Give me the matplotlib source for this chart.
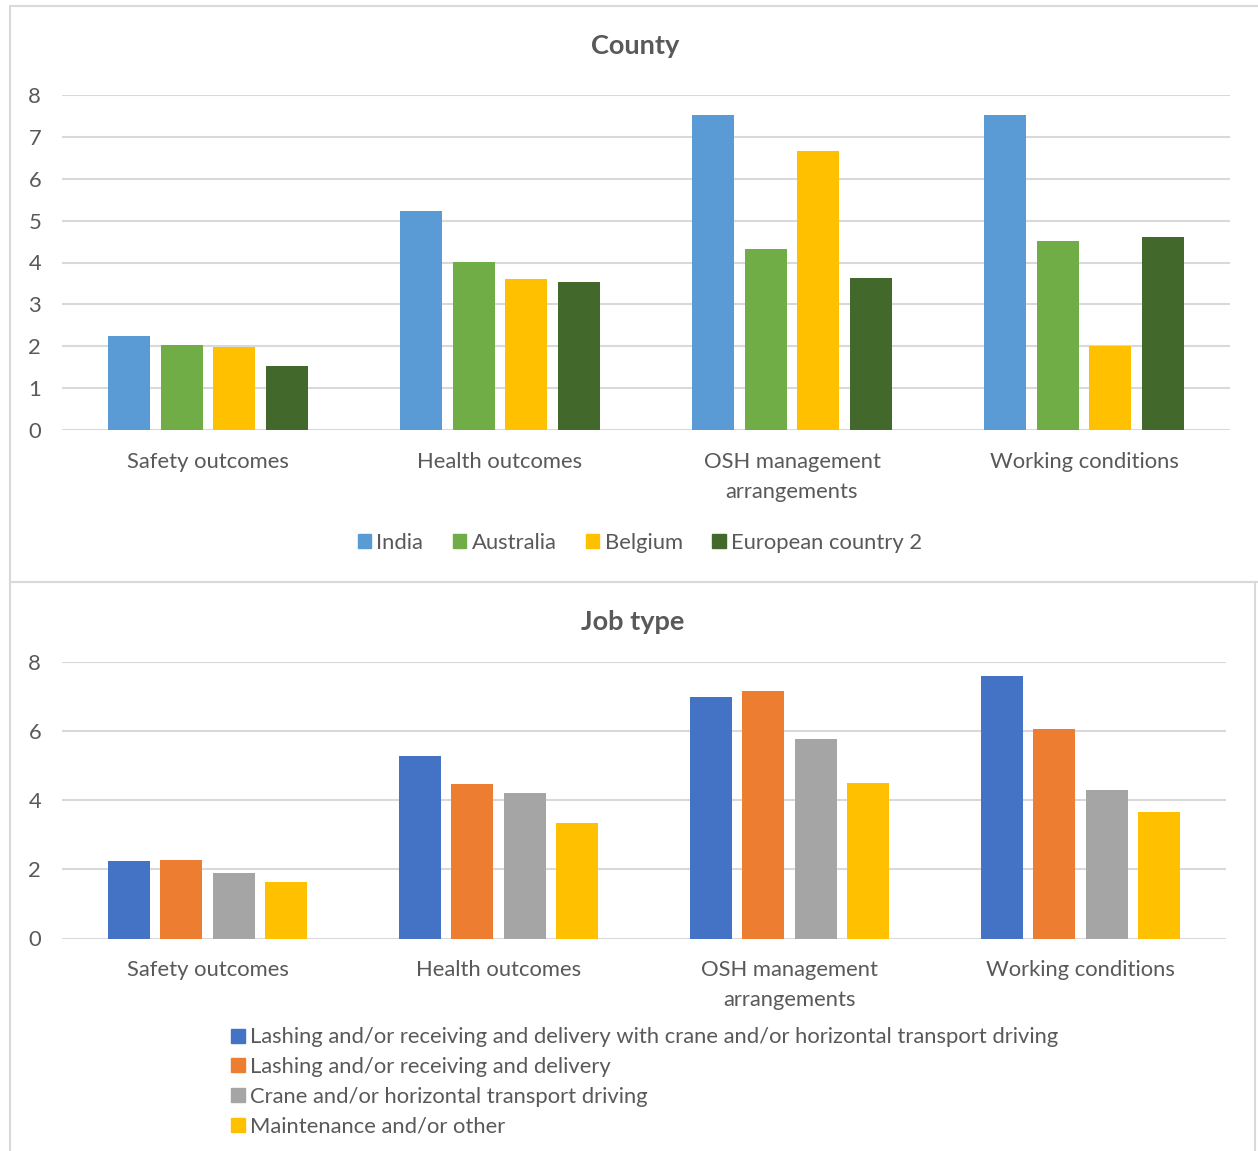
import matplotlib
matplotlib.use("Agg")
import matplotlib.pyplot as plt
import numpy as np
from matplotlib.patches import Rectangle

# ── Data ──────────────────────────────────────────────────────────────────────

CATEGORIES = ["Safety outcomes", "Health outcomes", "OSH management\narrangements", "Working conditions"]

COUNTRY_NAMES = ["India", "Australia", "Belgium", "European country 2"]
INDIA = [2.24, 5.22, 7.52, 7.52]
AUSTRALIA = [2.03, 4.01, 4.33, 4.52]
BELGIUM = [1.98, 3.61, 6.66, 2.01]
EUROPEAN_2 = [1.53, 3.53, 3.62, 4.62]

JOB_NAMES = [
    "Lashing and/or receiving and delivery with crane and/or horizontal transport driving",
    "Lashing and/or receiving and delivery",
    "Crane and/or horizontal transport driving",
    "Maintenance and/or other",
]
JOB_LASHING_CRANE = [2.25, 5.29, 6.99, 7.60]
JOB_LASHING = [2.28, 4.48, 7.16, 6.06]
JOB_CRANE = [1.89, 4.20, 5.77, 4.30]
JOB_MAINT = [1.64, 3.35, 4.51, 3.67]

COUNTRY_COLORS = ["#5B9BD5", "#70AD47", "#FFC000", "#43682B"]
JOB_COLORS = ["#4472C4", "#ED7D31", "#A5A5A5", "#FFC000"]

TEXT = "#595959"
GRID = "#D9D9D9"
FS = 15.8

plt.rcParams["font.family"] = ["Lato", "DejaVu Sans"]

W, H = 1258, 1151
fig = plt.figure(figsize=(W / 100, H / 100), dpi=100)


def px_axes(x0, y_top, x1, y_bot):
    return fig.add_axes([x0 / W, 1 - y_bot / H, (x1 - x0) / W, (y_bot - y_top) / H])


def panel_box(x0, y0, x1, y1):
    fig.patches.append(Rectangle((x0 / W, 1 - y1 / H), (x1 - x0) / W, (y1 - y0) / H,
                                 transform=fig.transFigure, fill=False,
                                 edgecolor=GRID, lw=1.5))


def grouped_bars(ax, series, colors, yticks):
    x = np.arange(len(CATEGORIES))
    step, width = 0.18, 0.144
    for i, (vals, c) in enumerate(zip(series, colors)):
        ax.bar(x + (i - 1.5) * step, vals, width=width, color=c, zorder=3)
    ax.set_xlim(-0.5, len(CATEGORIES) - 0.5)
    ax.set_ylim(0, 8)
    ax.set_yticks(yticks)
    ax.grid(axis="y", color=GRID, lw=1.5, zorder=0)
    for s in ax.spines.values():
        s.set_visible(False)
    ax.set_xticks(x)
    ax.set_xticklabels(CATEGORIES, fontsize=FS, color=TEXT, linespacing=1.65)
    ax.tick_params(axis="x", length=0, pad=15.5)
    ax.tick_params(axis="y", length=0, pad=15, labelsize=FS, labelcolor=TEXT)


panel_box(10, 6, 1270, 582)
panel_box(10, 582, 1255, 1160)

# ── Top: County ───────────────────────────────────────────────────────────────
ax1 = px_axes(62, 95, 1230, 430)
grouped_bars(ax1, [INDIA, AUSTRALIA, BELGIUM, EUROPEAN_2], COUNTRY_COLORS, range(0, 9))
fig.text(635 / W, 1 - 46 / H, "County", ha="center", va="center",
         fontsize=19.5, fontweight="bold", color=TEXT)
h1 = [Rectangle((0, 0), 1, 1, color=c) for c in COUNTRY_COLORS]
fig.legend(h1, COUNTRY_NAMES, loc="center", bbox_to_anchor=(640 / W, 1 - 543 / H),
           ncol=4, frameon=False, fontsize=FS, labelcolor=TEXT,
           handlelength=0.6, handleheight=0.6, handletextpad=0.25, columnspacing=1.35)

# ── Bottom: Job type ──────────────────────────────────────────────────────────
ax2 = px_axes(62, 662, 1226, 938.5)
grouped_bars(ax2, [JOB_LASHING_CRANE, JOB_LASHING, JOB_CRANE, JOB_MAINT], JOB_COLORS, range(0, 9, 2))
fig.text(633 / W, 1 - 622 / H, "Job type", ha="center", va="center",
         fontsize=19.5, fontweight="bold", color=TEXT)
h2 = [Rectangle((0, 0), 1, 1, color=c) for c in JOB_COLORS]
fig.legend(h2, JOB_NAMES, loc="upper left", bbox_to_anchor=(216 / W, 1 - 1012 / H),
           ncol=1, frameon=False, fontsize=FS, labelcolor=TEXT,
           handlelength=0.6, handleheight=0.6, handletextpad=0.25, labelspacing=0.44,
           borderpad=0.2)

fig.savefig("out.png", dpi=100)
